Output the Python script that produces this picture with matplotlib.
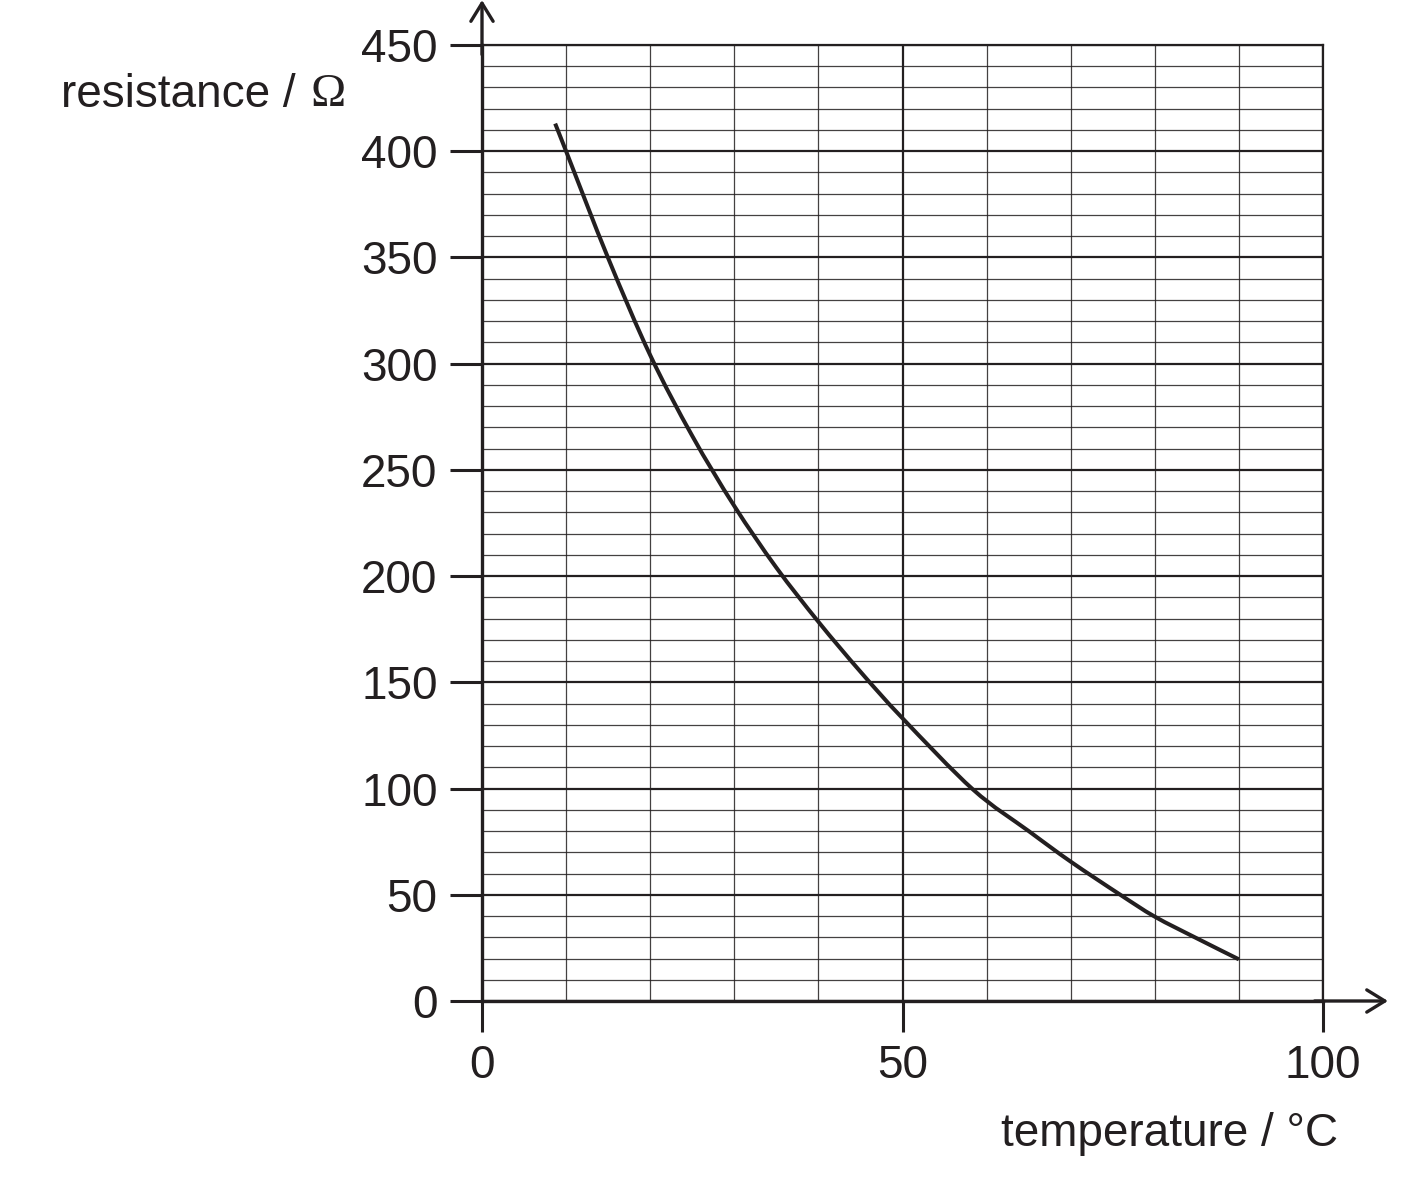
import numpy as np
import matplotlib.pyplot as plt
from matplotlib.path import Path
from matplotlib.patches import PathPatch

# values
temperature = [8.7, 10, 15, 20, 25, 30, 35, 40, 45, 50, 58.4, 65, 70, 75.9, 80, 85, 90]
resistance = [413, 400, 349.7, 304, 266, 233, 204, 178.5, 155, 133.1, 99.5, 80, 65.6, 50, 39.7, 29.5, 19.6]

x_ticks = [0, 50, 100]
y_ticks = list(range(0, 451, 50))

INK = "#231f20"
FONT = "Liberation Sans"

fig = plt.figure(figsize=(14.17, 11.88), dpi=100)
ax = fig.add_axes([482 / 1417, 1 - 1001 / 1188, 841 / 1417, 956 / 1188])

ax.set_xlim(0, 100)
ax.set_ylim(0, 450)

# grid
ax.set_xticks(x_ticks)
ax.set_yticks(y_ticks)
ax.set_xticks(np.arange(0, 101, 10), minor=True)
ax.set_yticks(np.arange(0, 451, 10), minor=True)
ax.grid(which="minor", color=INK, lw=0.9, alpha=0.85)
ax.grid(which="major", color=INK, lw=1.6)
ax.set_axisbelow(True)

ax.tick_params(which="minor", length=0)
ax.tick_params(axis="y", which="major", length=23, width=2.2, pad=9, color=INK,
               labelsize=33, labelcolor=INK)
ax.tick_params(axis="x", which="major", length=22, width=2.2, pad=9, color=INK,
               labelsize=33, labelcolor=INK)
for lab in ax.get_xticklabels() + ax.get_yticklabels():
    lab.set_fontfamily(FONT)

for side in ["left", "bottom"]:
    ax.spines[side].set_linewidth(2.4)
    ax.spines[side].set_color(INK)
for side in ["top", "right"]:
    ax.spines[side].set_linewidth(1.6)
    ax.spines[side].set_color(INK)

# smooth curve through the read points (Catmull-Rom -> cubic Bezier path)
pts = np.column_stack([temperature, resistance])
verts = [pts[0]]
codes = [Path.MOVETO]
for i in range(len(pts) - 1):
    p0 = pts[max(i - 1, 0)]
    p1 = pts[i]
    p2 = pts[i + 1]
    p3 = pts[min(i + 2, len(pts) - 1)]
    verts += [p1 + (p2 - p0) / 6, p2 - (p3 - p1) / 6, p2]
    codes += [Path.CURVE4] * 3
ax.add_patch(PathPatch(Path(verts, codes), fill=False, edgecolor=INK, lw=2.9,
                       capstyle="butt", zorder=5))

# axis arrows
arrow = dict(arrowstyle="->,head_length=0.65,head_width=0.4", lw=2.4, color=INK,
             shrinkA=0, shrinkB=0, mutation_scale=20)
ax.annotate("", xy=(0, 1.047), xytext=(0, 0.99), xycoords="axes fraction",
            arrowprops=arrow, annotation_clip=False)
ax.annotate("", xy=(1.0773, 0), xytext=(0.99, 0), xycoords="axes fraction",
            arrowprops=arrow, annotation_clip=False)

# axis labels
fig.text(296 / 1417, 1 - 95 / 1188, "resistance /", ha="right", va="center",
         fontsize=33, color=INK, family=FONT)
fig.text(346 / 1417, 1 - 95 / 1188, "Ω", ha="right", va="center",
         fontsize=34, color=INK, family="Liberation Serif")
fig.text(1338 / 1417, 1 - 1134 / 1188, "temperature / °C", ha="right", va="center",
         fontsize=33, color=INK, family=FONT)

plt.savefig("out.png", dpi=100)
plt.close()
